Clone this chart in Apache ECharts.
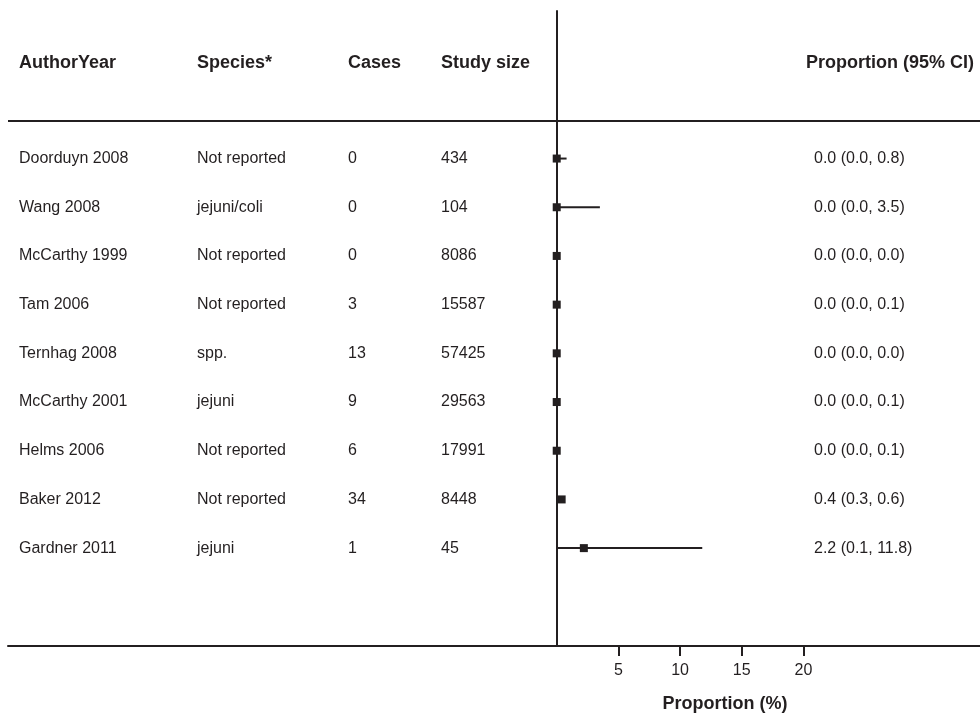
<!DOCTYPE html>
<html>
<head>
<meta charset="utf-8">
<script src="https://cdn.jsdelivr.net/npm/echarts@6.0.0/dist/echarts.min.js"></script>
<style>
  html, body { margin: 0; padding: 0; background: #fff; }
  #chart { width: 980px; height: 715px; }
</style>
</head>
<body>
<div id="chart"></div>
<script>
var authors = ['Doorduyn 2008', 'Wang 2008', 'McCarthy 1999', 'Tam 2006', 'Ternhag 2008',
  'McCarthy 2001', 'Helms 2006', 'Baker 2012', 'Gardner 2011']
var species = ['Not reported', 'jejuni/coli', 'Not reported', 'Not reported', 'spp.',
  'jejuni', 'Not reported', 'Not reported', 'jejuni']
var cases = [0, 0, 0, 3, 13, 9, 6, 34, 1]
var studySize = [434, 104, 8086, 15587, 57425, 29563, 17991, 8448, 45]
var estimate = [0.0, 0.0, 0.0, 0.0, 0.0, 0.0, 0.0, 0.4, 2.2]
var lower = [0.0, 0.0, 0.0, 0.0, 0.0, 0.0, 0.0, 0.3, 0.1]
var upper = [0.8, 3.5, 0.0, 0.1, 0.0, 0.1, 0.1, 0.6, 11.8]
var tickValues = [5, 10, 15, 20]

var font = "'Liberation Sans', Arial, sans-serif"
var ink = '#231f20'

var rows = []
for (var i = 0; i < authors.length; i++) {
  rows.push([i, lower[i], upper[i], estimate[i]])
}

function ciText (i) {
  return estimate[i].toFixed(1) + ' (' + lower[i].toFixed(1) + ', ' + upper[i].toFixed(1) + ')'
}

// column x positions (pixels)
var cols = { author: 19, species: 197, cases: 348, size: 441, ci: 814 }

function renderRow (params, api) {
  var i = api.value(0)
  var a = api.coord([api.value(1), i])
  var b = api.coord([api.value(2), i])
  var m = api.coord([api.value(3), i])
  var y = m[1]
  var txt = function (x, s) {
    return {
      type: 'text',
      style: { x: x, y: y, text: s, fill: ink, font: '16px ' + font, verticalAlign: 'middle', align: 'left' }
    }
  }
  return {
    type: 'group',
    children: [
      { type: 'line', shape: { x1: a[0], y1: y, x2: b[0], y2: y }, style: { stroke: ink, lineWidth: 2 } },
      { type: 'rect', shape: { x: m[0] - 4, y: y - 4, width: 8, height: 8 }, style: { fill: ink } },
      txt(cols.author, authors[i]),
      txt(cols.species, species[i]),
      txt(cols.cases, String(cases[i])),
      txt(cols.size, String(studySize[i])),
      txt(cols.ci, ciText(i))
    ]
  }
}

var chart = echarts.init(document.getElementById('chart'))

var headStyle = { fill: ink, font: 'bold 18px ' + font, verticalAlign: 'middle' }

chart.setOption({
  animation: false,
  grid: { left: 8, right: 0, top: 11, bottom: 69 },
  xAxis: {
    type: 'value',
    min: -44.49,
    max: 34.32,
    axisLine: { onZero: false, lineStyle: { color: ink, width: 2 } },
    axisTick: { customValues: tickValues, length: 10, lineStyle: { color: ink, width: 2 } },
    axisLabel: { customValues: tickValues, color: ink, fontSize: 16, fontFamily: font, margin: 17 },
    splitLine: { show: false }
  },
  yAxis: {
    type: 'value',
    inverse: true,
    min: -3.03,
    max: 10.01,
    axisLine: { show: true, onZero: true, lineStyle: { color: ink, width: 2 } },
    axisTick: { show: false },
    axisLabel: { show: false },
    splitLine: { show: false }
  },
  graphic: [
    { type: 'line', shape: { x1: 8, y1: 121, x2: 980, y2: 121 }, style: { stroke: ink, lineWidth: 2 } },
    { type: 'text', style: Object.assign({ x: 19, y: 63, text: 'AuthorYear', align: 'left' }, headStyle) },
    { type: 'text', style: Object.assign({ x: 197, y: 63, text: 'Species*', align: 'left' }, headStyle) },
    { type: 'text', style: Object.assign({ x: 348, y: 63, text: 'Cases', align: 'left' }, headStyle) },
    { type: 'text', style: Object.assign({ x: 441, y: 63, text: 'Study size', align: 'left' }, headStyle) },
    { type: 'text', style: Object.assign({ x: 974, y: 63, text: 'Proportion (95% CI)', align: 'right' }, headStyle) },
    { type: 'text', style: Object.assign({ x: 725, y: 704, text: 'Proportion (%)', align: 'center' }, headStyle) }
  ],
  series: [
    {
      type: 'custom',
      renderItem: renderRow,
      encode: { x: [1, 2, 3], y: 0 },
      data: rows,
      clip: false
    }
  ]
})
</script>
</body>
</html>
